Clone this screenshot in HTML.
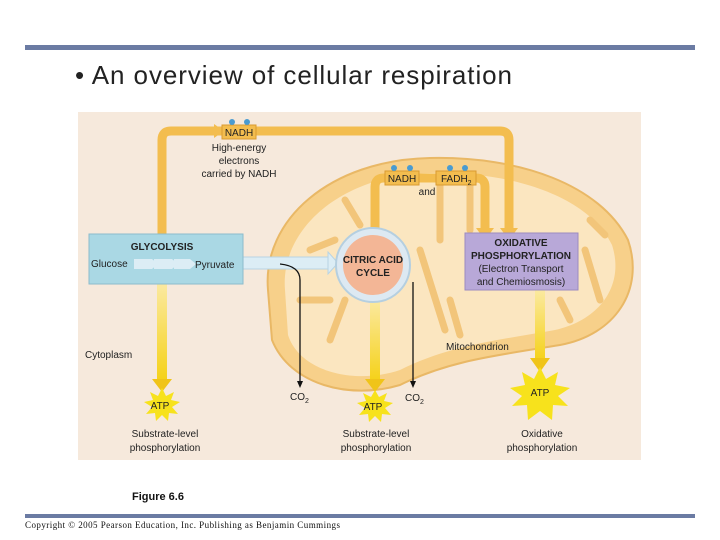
<!DOCTYPE html>
<html><head><meta charset="utf-8"><style>
body{margin:0;width:720px;height:540px;background:#fff;overflow:hidden}
svg{display:block}
text{font-family:"Liberation Sans",sans-serif}
</style></head><body>
<svg width="720" height="540" viewBox="0 0 720 540">
<rect x="25" y="45" width="670" height="5" fill="#6b7ba3"/>
<text x="75" y="84" font-size="26" textLength="437" fill="#222">• An overview of cellular respiration</text>
<rect x="78" y="112" width="563" height="348" fill="#f6e9dc"/>
<path d="M268,290 C262,220 330,160 430,158 C520,156 600,185 628,240 C645,290 615,335 560,345 C500,355 450,360 400,385 C350,400 290,385 272,340 Z" fill="#f7d08a" stroke="#e9b866" stroke-width="2"/>
<path d="M285,290 C280,230 340,175 430,173 C515,171 590,198 612,245 C625,285 600,320 555,330 C500,340 450,345 400,370 C355,385 300,372 288,335 Z" fill="#fbe6c0"/>
<g stroke="#f2c57a" stroke-width="7" fill="none" stroke-linecap="round">
<path d="M300,300 L330,300"/><path d="M310,250 L335,240"/><path d="M330,340 L345,300"/>
<path d="M440,180 L440,240"/><path d="M470,180 L470,230"/><path d="M420,250 L445,330"/>
<path d="M585,250 L600,300"/><path d="M560,300 L570,320"/><path d="M450,300 L460,335"/>
<path d="M345,200 L360,225"/><path d="M590,220 L605,235"/>
</g>
<path d="M162,284 L162,140 Q162,131 171,131 L500,131 Q509,131 509,140 L509,228" fill="none" stroke="#f3bd4f" stroke-width="9"/>
<polygon points="214,124 224,131 214,138" fill="#f3bd4f"/>
<polygon points="500,228 518,228 509,240" fill="#f3bd4f"/>
<rect x="222" y="125" width="34" height="14" fill="#f3bd4f" stroke="#d99a30"/>
<circle cx="232" cy="122" r="3" fill="#4a9bd0"/><circle cx="247" cy="122" r="3" fill="#4a9bd0"/>
<text x="239" y="136" font-size="10" text-anchor="middle" fill="#222">NADH</text>
<text x="239" y="151" font-size="10" text-anchor="middle" fill="#222">High-energy</text>
<text x="239" y="164" font-size="10" text-anchor="middle" fill="#222">electrons</text>
<text x="239" y="177" font-size="10" text-anchor="middle" fill="#222">carried by NADH</text>
<path d="M375,230 L375,187 Q375,178 384,178 L476,178 Q485,178 485,187 L485,228" fill="none" stroke="#f3bd4f" stroke-width="9"/>
<polygon points="476,228 494,228 485,240" fill="#f3bd4f"/>
<rect x="385" y="171" width="34" height="14" fill="#f3bd4f" stroke="#d99a30"/>
<rect x="436" y="171" width="40" height="14" fill="#f3bd4f" stroke="#d99a30"/>
<circle cx="394" cy="168" r="3" fill="#4a9bd0"/><circle cx="410" cy="168" r="3" fill="#4a9bd0"/>
<circle cx="450" cy="168" r="3" fill="#4a9bd0"/><circle cx="465" cy="168" r="3" fill="#4a9bd0"/>
<text x="402" y="182" font-size="10" text-anchor="middle" fill="#222">NADH</text>
<text x="441" y="182" font-size="10" fill="#222">FADH<tspan font-size="7" dy="3">2</tspan></text>
<text x="427" y="195" font-size="10" text-anchor="middle" fill="#222">and</text>
<defs><linearGradient id="y" x1="0" y1="0" x2="0" y2="1"><stop offset="0" stop-color="#fbe9a0"/><stop offset="1" stop-color="#f5d21a"/></linearGradient></defs>
<rect x="157" y="284" width="10" height="95" fill="url(#y)"/><polygon points="152,379 172,379 162,392" fill="#f0c419"/>
<rect x="370" y="300" width="10" height="80" fill="url(#y)"/><polygon points="365,379 385,379 375,392" fill="#f0c419"/>
<rect x="535" y="290" width="10" height="70" fill="url(#y)"/><polygon points="530,358 550,358 540,372" fill="#f0c419"/>
<rect x="243" y="257" width="85" height="12" fill="#dcedf5" stroke="#b8d4e4"/>
<polygon points="328,252 338,263 328,274" fill="#dcedf5" stroke="#b8d4e4"/>
<path d="M280,264 Q300,266 300,280 L300,382" fill="none" stroke="#111" stroke-width="1.3"/>
<polygon points="297,381 303,381 300,388" fill="#111"/>
<line x1="413" y1="282" x2="413" y2="382" stroke="#111" stroke-width="1.3"/>
<polygon points="410,381 416,381 413,388" fill="#111"/>
<text x="290" y="400" font-size="10" fill="#222">CO<tspan font-size="7" dy="3">2</tspan></text>
<text x="405" y="401" font-size="10" fill="#222">CO<tspan font-size="7" dy="3">2</tspan></text>
<rect x="89" y="234" width="154" height="50" fill="#aad8e4" stroke="#8cbccc"/>
<text x="162" y="250" font-size="10" font-weight="bold" text-anchor="middle" fill="#222">GLYCOLYSIS</text>
<text x="91" y="267" font-size="10" fill="#222">Glucose</text>
<polygon points="134,259 152,259 158,264 152,269 134,269" fill="#dcedf5"/>
<polygon points="154,259 172,259 178,264 172,269 154,269" fill="#dcedf5"/>
<polygon points="174,259 190,259 196,264 190,269 174,269" fill="#dcedf5"/>
<text x="195" y="268" font-size="10" fill="#222">Pyruvate</text>
<circle cx="373" cy="265" r="37" fill="#dde9f2" stroke="#b5cfe0" stroke-width="2"/>
<circle cx="373" cy="265" r="30" fill="#f3b696"/>
<text x="373" y="263" font-size="10" font-weight="bold" text-anchor="middle" fill="#222">CITRIC ACID</text>
<text x="373" y="276" font-size="10" font-weight="bold" text-anchor="middle" fill="#222">CYCLE</text>
<rect x="465" y="233" width="113" height="57" fill="#b8a8d8" stroke="#9b8bc0"/>
<text x="521" y="246" font-size="10" font-weight="bold" text-anchor="middle" fill="#222">OXIDATIVE</text>
<text x="521" y="259" font-size="10" font-weight="bold" text-anchor="middle" fill="#222">PHOSPHORYLATION</text>
<text x="521" y="272" font-size="10" text-anchor="middle" fill="#222">(Electron Transport</text>
<text x="521" y="285" font-size="10" text-anchor="middle" fill="#222">and Chemiosmosis)</text>
<text x="85" y="358" font-size="10" fill="#222">Cytoplasm</text>
<text x="446" y="350" font-size="10" fill="#222">Mitochondrion</text>
<polygon points="162,388 166,396 174,392 171,400 180,402 172,407 178,414 169,413 168,421 162,415 156,421 155,413 146,414 152,407 144,402 153,400 150,392 158,396" fill="#f7e21c"/>
<text x="160" y="409" font-size="10" text-anchor="middle" fill="#222">ATP</text>
<polygon points="375,390 379,397 387,393 384,401 393,403 385,408 391,415 382,414 381,422 375,416 369,422 368,414 359,415 365,408 357,403 366,401 363,393 371,397" fill="#f7e21c"/>
<text x="373" y="410" font-size="10" text-anchor="middle" fill="#222">ATP</text>
<polygon points="540,367 546,379 558,372 555,385 570,388 558,396 568,406 553,405 552,420 540,411 528,420 527,405 512,406 522,396 510,388 525,385 522,372 534,379" fill="#f7e21c"/>
<text x="540" y="396" font-size="10" text-anchor="middle" fill="#222">ATP</text>
<text x="165" y="437" font-size="10" text-anchor="middle" fill="#222">Substrate-level</text>
<text x="165" y="451" font-size="10" text-anchor="middle" fill="#222">phosphorylation</text>
<text x="376" y="437" font-size="10" text-anchor="middle" fill="#222">Substrate-level</text>
<text x="376" y="451" font-size="10" text-anchor="middle" fill="#222">phosphorylation</text>
<text x="542" y="437" font-size="10" text-anchor="middle" fill="#222">Oxidative</text>
<text x="542" y="451" font-size="10" text-anchor="middle" fill="#222">phosphorylation</text>
<text x="132" y="500" font-size="11" font-weight="bold" fill="#111">Figure 6.6</text>
<rect x="25" y="514" width="670" height="4" fill="#6b7ba3"/>
<text x="25" y="528" font-size="9" textLength="315" fill="#111" style="font-family:'Liberation Serif',serif">Copyright © 2005 Pearson Education, Inc. Publishing as Benjamin Cummings</text>
</svg>
</body></html>
